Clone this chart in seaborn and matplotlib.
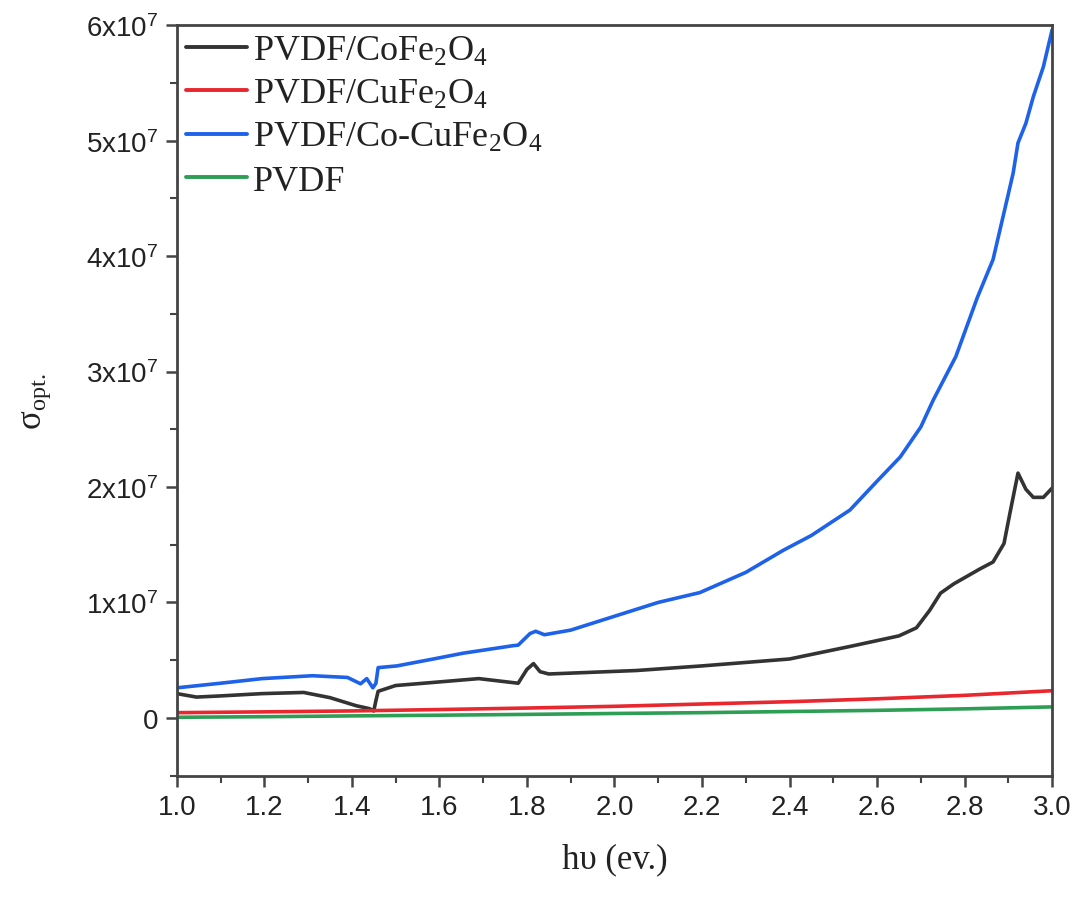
import numpy as np
import pandas as pd
import matplotlib
matplotlib.use("Agg")
import matplotlib.pyplot as plt
import seaborn as sns
from matplotlib.ticker import MultipleLocator, FixedLocator

# ---- data (sigma values in units of 1e6) ----
series_names = ["PVDF/CoFe$_2$O$_4$", "PVDF/CuFe$_2$O$_4$", "PVDF/Co-CuFe$_2$O$_4$", "PVDF"]
series_colors = ["#333333", "#e8272f", "#1f62ea", "#2e9e55"]

black_x = [1.00, 1.045, 1.10, 1.195, 1.29, 1.35, 1.41, 1.44, 1.45, 1.455, 1.46, 1.50, 1.58, 1.69,
           1.78, 1.80, 1.815, 1.83, 1.85, 1.95, 2.05, 2.20, 2.30, 2.40, 2.54, 2.65, 2.69, 2.72,
           2.745, 2.775, 2.835, 2.865, 2.89, 2.905, 2.922, 2.94, 2.957, 2.98, 3.00]
black_y = [2.1, 1.8, 1.9, 2.1, 2.2, 1.75, 1.05, 0.8, 0.6, 1.5, 2.3, 2.8, 3.05, 3.4,
           3.0, 4.2, 4.7, 4.0, 3.8, 3.95, 4.1, 4.5, 4.8, 5.1, 6.2, 7.1, 7.8, 9.3,
           10.8, 11.6, 12.9, 13.5, 15.1, 18.0, 21.2, 19.8, 19.1, 19.1, 19.9]

red_x = [1.0, 1.2, 1.4, 1.6, 1.8, 2.0, 2.2, 2.4, 2.6, 2.8, 3.0]
red_y = [0.45, 0.52, 0.6, 0.72, 0.85, 1.0, 1.2, 1.4, 1.65, 1.95, 2.35]

blue_x = [1.00, 1.10, 1.195, 1.31, 1.39, 1.42, 1.434, 1.448, 1.455, 1.46, 1.503, 1.60, 1.654,
          1.768, 1.78, 1.807, 1.82, 1.84, 1.90, 2.00, 2.10, 2.195, 2.30, 2.385, 2.45, 2.538,
          2.60, 2.653, 2.70, 2.728, 2.78, 2.829, 2.865, 2.897, 2.911, 2.922, 2.94, 2.957, 2.98, 3.00]
blue_y = [2.6, 3.0, 3.4, 3.65, 3.5, 2.95, 3.4, 2.6, 3.0, 4.35, 4.5, 5.2, 5.6,
          6.25, 6.3, 7.3, 7.5, 7.2, 7.6, 8.8, 10.0, 10.85, 12.6, 14.5, 15.8, 18.0,
          20.5, 22.6, 25.2, 27.5, 31.3, 36.4, 39.7, 44.9, 47.2, 49.8, 51.5, 53.8, 56.4, 59.6]

green_x = [1.0, 1.2, 1.4, 1.6, 1.8, 2.0, 2.2, 2.4, 2.6, 2.8, 3.0]
green_y = [0.05, 0.1, 0.17, 0.23, 0.3, 0.38, 0.45, 0.55, 0.65, 0.78, 0.95]

x_ticks = [1.0, 1.2, 1.4, 1.6, 1.8, 2.0, 2.2, 2.4, 2.6, 2.8, 3.0]
x_tick_labels = ["1.0", "1.2", "1.4", "1.6", "1.8", "2.0", "2.2", "2.4", "2.6", "2.8", "3.0"]
y_ticks = [0, 1e7, 2e7, 3e7, 4e7, 5e7, 6e7]
y_tick_labels = ["0"] + [r"$\mathsf{%dx10^{7}}$" % k for k in range(1, 7)]

# ---- build long-form table ----
frames = []
for name, xs, ys in zip(series_names, [black_x, red_x, blue_x, green_x],
                        [black_y, red_y, blue_y, green_y]):
    frames.append(pd.DataFrame({"x": xs, "y": np.array(ys) * 1e6, "series": name}))
df = pd.concat(frames, ignore_index=True)

sns.set_style("ticks")
plt.rcParams["font.family"] = ["Liberation Sans", "DejaVu Sans"]
plt.rcParams["mathtext.fontset"] = "custom"
plt.rcParams["mathtext.rm"] = "Liberation Serif"
plt.rcParams["mathtext.it"] = "Liberation Serif:italic"
plt.rcParams["mathtext.sf"] = "Liberation Sans"

fig = plt.figure(figsize=(10.78, 9.03), dpi=100)
ax = fig.add_axes([0.164, 0.140, 0.812, 0.831])

sns.lineplot(data=df, x="x", y="y", hue="series", hue_order=series_names,
             palette=dict(zip(series_names, series_colors)), linewidth=2.6,
             sort=False, estimator=None, ax=ax)

ax.set_xlim(1.0, 3.0)
ax.set_ylim(-5e6, 6e7)
ax.xaxis.set_major_locator(FixedLocator(x_ticks))
ax.set_xticklabels(x_tick_labels)
ax.xaxis.set_minor_locator(MultipleLocator(0.1))
ax.yaxis.set_major_locator(FixedLocator(y_ticks))
ax.set_yticklabels(y_tick_labels)
ax.yaxis.set_minor_locator(MultipleLocator(5e6))

edge = "#444444"
for sp in ax.spines.values():
    sp.set_linewidth(2.0)
    sp.set_color(edge)
ax.tick_params(axis="both", which="major", direction="out", length=8, width=1.8,
               color=edge, labelsize=20, labelcolor="#222222", pad=5)
ax.tick_params(axis="both", which="minor", direction="out", length=5, width=1.5, color=edge)
ax.tick_params(top=False, right=False, which="both")

ax.set_xlabel("h\u03c5 (ev.)", fontfamily="Liberation Serif", fontsize=25, color="#222222", labelpad=16)
ax.set_ylabel("\u03c3$_{\\mathrm{opt.}}$", fontfamily="Liberation Serif", fontsize=25,
              color="#222222", labelpad=24)

leg = ax.legend(loc="upper left", bbox_to_anchor=(0.0, 1.0), frameon=False,
                prop={"family": "Liberation Serif", "size": 26}, handlelength=1.7,
                handletextpad=0.15, labelspacing=0.28, borderaxespad=0.0, borderpad=0.25)
for line in leg.get_lines():
    line.set_linewidth(2.8)
for t in leg.get_texts():
    t.set_color("#222222")

fig.savefig("out.png", dpi=100)
